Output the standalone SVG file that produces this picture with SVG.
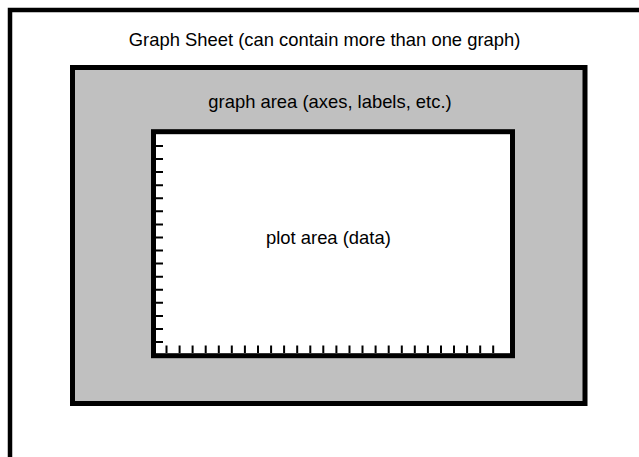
<svg xmlns="http://www.w3.org/2000/svg" width="639" height="457" viewBox="0 0 639 457">
<style>
.lbl{font-family:"Liberation Sans",Arial,sans-serif;font-size:18.4px;fill:#000;text-anchor:middle}
.frame{fill:none;stroke:#000;stroke-width:4.5}
.box{stroke:#000;stroke-width:5}
.tick{stroke:#000;stroke-width:2}
</style>
<rect width="639" height="457" fill="#fff"/>
<g id="sheet">
<path class="frame" d="M10,457 V10 H639"/>
<text class="lbl" x="324.6" y="45.5">Graph Sheet (can contain more than one graph)</text>
</g>
<g id="graph-area">
<rect class="box" x="72.5" y="67.5" width="512.5" height="336" fill="#c0c0c0"/>
<text class="lbl" x="330" y="107.5">graph area (axes, labels, etc.)</text>
</g>
<g id="plot-area">
<rect class="box" x="153.5" y="131.7" width="359" height="224" fill="#fff"/>
<text class="lbl" x="328.4" y="244">plot area (data)</text>
</g>
<g id="ticks">
<path class="tick" d="M155,146H163M155,159.1H163M155,172.1H163M155,185.2H163M155,198.3H163M155,211.3H163M155,224.4H163M155,237.5H163M155,250.6H163M155,263.6H163M155,276.7H163M155,289.8H163M155,302.8H163M155,315.9H163M155,329H163M155,342H163"/>
<path class="tick" d="M166.5,345.5V353M179.6,345.5V353M192.6,345.5V353M205.7,345.5V353M218.8,345.5V353M231.8,345.5V353M244.9,345.5V353M258,345.5V353M271.1,345.5V353M284.1,345.5V353M297.2,345.5V353M310.3,345.5V353M323.3,345.5V353M336.4,345.5V353M349.5,345.5V353M362.5,345.5V353M375.6,345.5V353M388.7,345.5V353M401.8,345.5V353M414.8,345.5V353M427.9,345.5V353M441,345.5V353M454,345.5V353M467.1,345.5V353M480.2,345.5V353M493.2,345.5V353"/>
</g>
</svg>
